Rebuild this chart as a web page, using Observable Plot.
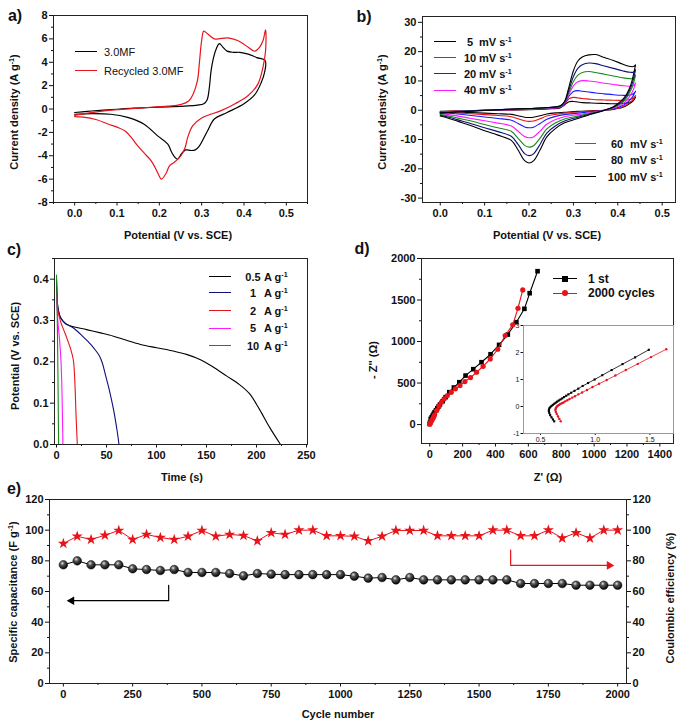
<!DOCTYPE html>
<html><head><meta charset="utf-8">
<script src="https://cdn.jsdelivr.net/npm/d3@7"></script>
<script src="https://cdn.jsdelivr.net/npm/@observablehq/plot@0.6"></script>
<style>
body{margin:0;background:#fff;}
#root{position:relative;width:685px;height:724px;overflow:hidden;background:#fff;}
.t{position:absolute;white-space:nowrap;line-height:1;color:#111;font-family:'Liberation Sans',Arial,Helvetica,sans-serif;}
.t sup{font-size:65%;vertical-align:0.55em;line-height:0;}
.sw{position:absolute;height:0;}
</style></head><body><div id="root"></div>
<script>
// ---------- Panel a: CV of 3.0MF and recycled 3.0MF (potential V, current A/g) ----------
const aXTicks = [0, 0.1, 0.2, 0.3, 0.4, 0.5];
const aXMinor = [-0.05, 0.05, 0.15, 0.25, 0.35, 0.45, 0.55];
const aYTicks = [-8, -6, -4, -2, 0, 2, 4, 6, 8];
const aYMinor = [-7, -5, -3, -1, 1, 3, 5, 7];
const cv30MF = [[0,-0.3],[0.03,-0.2],[0.06,-0.12],[0.1,-0.02],[0.14,0.07],[0.18,0.13],[0.22,0.19],[0.26,0.25],[0.29,0.33],[0.305,0.45],[0.313,0.8],[0.318,1.8],[0.322,3.2],[0.328,4.4],[0.335,5.2],[0.342,5.6],[0.35,5.3],[0.36,4.95],[0.375,4.85],[0.39,4.85],[0.41,4.7],[0.43,4.4],[0.45,4.15],[0.449,3.2],[0.44,2.2],[0.425,1.2],[0.4,0.45],[0.36,-0.3],[0.33,-0.86],[0.314,-1.86],[0.302,-2.7],[0.294,-3.2],[0.285,-3.5],[0.275,-3.55],[0.262,-3.5],[0.252,-3.85],[0.243,-4.3],[0.236,-4.1],[0.229,-3.7],[0.22,-3.0],[0.196,-2.3],[0.164,-1.3],[0.125,-0.72],[0.085,-0.45],[0.04,-0.4],[0,-0.45]];
const cvRecycled = [[0,-0.55],[0.03,-0.35],[0.06,-0.2],[0.1,-0.05],[0.14,0.05],[0.18,0.15],[0.22,0.25],[0.25,0.38],[0.27,0.71],[0.28,1.29],[0.29,2.43],[0.295,4.1],[0.3,5.86],[0.305,6.66],[0.314,6.43],[0.33,6.0],[0.362,6.09],[0.385,5.86],[0.41,5.29],[0.425,4.94],[0.437,5.29],[0.445,5.86],[0.451,6.77],[0.451,5.0],[0.445,3.6],[0.433,2.15],[0.41,1.15],[0.378,0.43],[0.346,-0.14],[0.3,-0.77],[0.279,-1.43],[0.267,-2.43],[0.261,-3.3],[0.251,-4.0],[0.235,-4.57],[0.224,-4.86],[0.216,-5.5],[0.205,-6.0],[0.198,-5.6],[0.19,-5.0],[0.18,-4.4],[0.165,-3.8],[0.15,-3.2],[0.135,-2.5],[0.12,-1.9],[0.1,-1.55],[0.08,-1.3],[0.05,-0.9],[0.02,-0.7],[0,-0.65]];

// ---------- Panel b: CV at different scan rates ----------
const bXTicks = [0, 0.1, 0.2, 0.3, 0.4, 0.5];
const bXMinor = [0.05, 0.15, 0.25, 0.35, 0.45];
const bYTicks = [-30, -20, -10, 0, 10, 20, 30];
const bYMinor = [-25, -15, -5, 5, 15, 25];
const bRates = ["5", "10", "20", "40", "60", "80", "100"];
const bColors = ["#000000", "#e8141a", "#1a1aff", "#ff1aff", "#1a8a1a", "#10107a", "#000000"];
const bUpperV = [0,0.05,0.1,0.15,0.2,0.25,0.27,0.28,0.29,0.3,0.31,0.32,0.335,0.35,0.37,0.39,0.41,0.425,0.435,0.44];
const bLowerV = [0.44,0.435,0.43,0.42,0.41,0.39,0.37,0.34,0.31,0.28,0.26,0.24,0.225,0.21,0.2,0.19,0.175,0.16,0.13,0.1,0.07,0.04,0.02,0];
const bUp5   = [-0.4,-0.2,0,0.1,0.2,0.5,0.8,1.8,2.9,3.0,2.8,2.6,2.5,2.4,2.3,2.2,2.3,2.6,3.3,4.5];
const bUp10  = [-0.5,-0.2,0,0.1,0.3,0.6,0.9,2.0,3.9,4.4,4.2,4.0,3.8,3.6,3.5,3.4,3.4,3.6,4.2,5.0];
const bUp20  = [-0.6,-0.3,0,0.2,0.4,0.7,1.0,2.2,4.8,6.4,6.7,6.5,6.2,5.9,5.6,5.3,5.1,5.1,5.6,6.5];
const bUp40  = [-0.7,-0.3,0,0.2,0.4,0.8,1.2,2.4,5.5,8.3,9.7,10.1,10.0,9.7,9.2,8.8,8.4,8.2,8.4,9.3];
const bUp60  = [-0.8,-0.3,0,0.3,0.5,0.9,1.3,2.6,6.2,9.8,12.0,12.9,13.2,12.9,12.3,11.7,11.1,10.8,10.9,12.0];
const bUp80  = [-0.9,-0.4,0,0.3,0.6,1.0,1.4,2.8,7.0,11.5,14.3,15.5,16.1,15.9,15.1,14.3,13.5,13.0,13.0,13.8];
const bUp100 = [-1.0,-0.5,-0.1,0.3,0.6,1.0,1.5,3.0,8.0,13.5,16.8,18.2,18.9,19.0,18.0,17.0,15.8,15.0,14.9,15.5];
const bLow5   = [4.5,3.3,2.6,1.6,0.9,0.3,0,-0.2,-0.4,-0.7,-0.9,-1.3,-1.9,-2.4,-2.5,-2.4,-1.9,-1.4,-1.2,-1.0,-0.8,-0.6,-0.5,-0.4];
const bLow10  = [5.0,3.8,3.0,1.9,1.1,0.4,0,-0.3,-0.6,-1.0,-1.4,-2.0,-2.9,-3.7,-3.8,-3.6,-2.9,-2.2,-1.8,-1.5,-1.2,-0.9,-0.7,-0.6];
const bLow20  = [6.5,5.0,4.0,2.5,1.5,0.5,0,-0.5,-1.0,-1.5,-2.1,-3.1,-4.5,-5.8,-6.0,-5.7,-4.5,-3.4,-2.8,-2.3,-1.8,-1.3,-1.0,-0.9];
const bLow40  = [9.3,7.0,5.5,3.4,2.0,0.7,0,-0.8,-1.5,-2.2,-3.2,-4.8,-7.1,-9.1,-9.4,-9.0,-7.1,-5.4,-4.4,-3.6,-2.8,-2.0,-1.5,-1.2];
const bLow60  = [12.0,9.0,7.0,4.3,2.6,0.9,0,-1.0,-2.0,-3.0,-4.3,-6.4,-9.5,-12.1,-12.6,-12.0,-9.5,-7.2,-6.0,-4.9,-3.7,-2.7,-2.0,-1.5];
const bLow80  = [13.8,10.5,8.0,5.0,3.0,1.0,0,-1.2,-2.4,-3.7,-5.3,-7.8,-11.6,-14.9,-15.5,-14.8,-11.6,-8.9,-7.3,-6.0,-4.6,-3.3,-2.4,-1.7];
const bLow100 = [15.5,12.0,9.0,5.5,3.5,1.2,0,-1.4,-2.8,-4.3,-6.2,-9.1,-13.5,-17.3,-18.0,-17.2,-13.5,-10.3,-8.5,-7.0,-5.3,-3.8,-2.8,-2.0];
const bUppers = [bUp5, bUp10, bUp20, bUp40, bUp60, bUp80, bUp100];
const bLowers = [bLow5, bLow10, bLow20, bLow40, bLow60, bLow80, bLow100];

// ---------- Panel c: discharge curves (time s, potential V) ----------
const cXTicks = [0, 50, 100, 150, 200, 250];
const cXMinor = [25, 75, 125, 175, 225];
const cYTicks = [0, 0.1, 0.2, 0.3, 0.4];
const cYMinor = [0.05, 0.15, 0.25, 0.35, 0.45];
const cLabels = ["0.5", "1", "2", "5", "10"];
const cColors = ["#000000", "#10107a", "#e8141a", "#ff1aff", "#1a8a1a"];
const gcd05 = [[0,0.4],[0.5,0.36],[1.3,0.333],[4,0.307],[9,0.292],[17,0.285],[30,0.278],[44,0.27],[57,0.262],[70,0.252],[84,0.242],[100,0.234],[117,0.226],[130,0.218],[144,0.205],[157,0.187],[170,0.166],[183,0.145],[193,0.123],[203,0.085],[213,0.042],[224,0]];
const gcd1 = [[0,0.4],[0.5,0.36],[1.3,0.333],[4,0.307],[9,0.293],[17,0.282],[27,0.26],[34,0.243],[39,0.228],[43,0.214],[46,0.196],[49,0.168],[53,0.13],[57,0.085],[60.5,0.035],[62.5,0]];
const gcd2 = [[0,0.37],[1.3,0.325],[4,0.298],[9,0.266],[14,0.232],[16.8,0.205],[18.2,0.16],[19.4,0.08],[20.8,0]];
const gcd5 = [[0,0.36],[1.3,0.3],[3.2,0.25],[4.6,0.196],[5.6,0.115],[6.4,0]];
const gcd10 = [[0,0.41],[0.7,0.32],[1.3,0.2],[1.8,0.08],[2.1,0]];
const gcdSeries = [gcd05, gcd1, gcd2, gcd5, gcd10];

// ---------- Panel d: Nyquist plots (Z' ohm, -Z'' ohm) ----------
const dXTicks = [0, 200, 400, 600, 800, 1000, 1200, 1400];
const dXMinor = [100, 300, 500, 700, 900, 1100, 1300];
const dYTicks = [0, 500, 1000, 1500, 2000];
const dYMinor = [250, 750, 1250, 1750];
const eis1st = [[0,8],[2,28],[6,68],[12,88],[18,108],[24,128],[30,149],[38,173],[46,197],[54,219],[62,241],[79,281],[97,330],[119,390],[147,446],[180,510],[218,590],[265,667],[315,751],[370,847],[422,960],[475,1084],[527,1233],[576,1394],[608,1582],[656,1847]];
const eis2000 = [[0,5],[3,16],[6,28],[12,48],[18,69],[24,92],[30,117],[42,169],[57,221],[71,269],[87,309],[107,349],[131,390],[156,430],[184,470],[214,518],[248,566],[285,630],[325,702],[368,791],[414,907],[459,1072],[505,1201],[537,1401],[566,1622]];
// inset (high-frequency region)
const insXTicks = [0.5, 1.0, 1.5];
const insYTicks = [-1, 0, 1, 2, 3];
const ins1st = [[1.49,2.1],[1.365,1.82],[1.25,1.57],[1.15,1.35],[1.065,1.16],[0.995,1.0],[0.935,0.87],[0.885,0.76],[0.845,0.66],[0.81,0.58],[0.78,0.51],[0.755,0.45],[0.735,0.4],[0.715,0.35],[0.698,0.3],[0.682,0.26],[0.666,0.22],[0.652,0.18],[0.638,0.14],[0.625,0.1],[0.612,0.06],[0.6,0.02],[0.59,-0.02],[0.582,-0.06],[0.577,-0.11],[0.576,-0.17],[0.58,-0.24],[0.588,-0.32],[0.6,-0.4],[0.613,-0.48],[0.625,-0.55]];
const ins2000 = [[1.65,2.12],[1.51,1.83],[1.39,1.58],[1.28,1.35],[1.185,1.15],[1.105,0.98],[1.035,0.84],[0.975,0.72],[0.925,0.61],[0.88,0.52],[0.845,0.45],[0.815,0.38],[0.79,0.33],[0.765,0.28],[0.745,0.23],[0.725,0.19],[0.71,0.15],[0.695,0.12],[0.68,0.09],[0.668,0.06],[0.658,0.03],[0.65,0.0],[0.643,-0.04],[0.638,-0.08],[0.636,-0.13],[0.64,-0.2],[0.648,-0.28],[0.66,-0.37],[0.672,-0.46],[0.685,-0.55]];

// ---------- Panel e: cycling stability ----------
const eXTicks = [0, 250, 500, 750, 1000, 1250, 1500, 1750, 2000];
const eXMinor = [125, 375, 625, 875, 1125, 1375, 1625, 1875];
const eYTicks = [0, 20, 40, 60, 80, 100, 120];
const eYMinor = [10, 30, 50, 70, 90, 110];
const eCycles = [0,50,100,150,200,250,300,350,400,450,500,550,600,650,700,750,800,850,900,950,1000,1050,1100,1150,1200,1250,1300,1350,1400,1450,1500,1550,1600,1650,1700,1750,1800,1850,1900,1950,2000];
const eCapacitance = [77.4,80,77.4,77.4,77.4,74.8,74.3,73.7,74.3,72.4,72.4,72.4,71.7,70.2,71.7,71.3,71,71,71,71,71,70,68.7,69.1,67.6,69.1,67.6,67.6,67.6,67.6,67.6,67.6,67.6,65.2,65.2,65.2,65.2,64.1,64.1,64.1,64.1];
const eEfficiency = [91.3,96,93.9,96.7,99.8,93.9,97.2,95.2,93.9,96,99.8,96,97.2,96.5,93,98.3,97.2,100,100,96.3,96.3,96,93,96,99.8,99.8,99.8,96.3,96.3,96.3,96.3,100,100,96.3,96.3,100,94.8,98.3,94.8,100,100];
const eArrowCap = [[380,64],[380,54],[30,54]];
const eArrowEff = [[1614,87],[1614,77],[1970,77]];

// ================= rendering =================
const FONT = "'Liberation Sans', Arial, Helvetica, sans-serif";
const root = document.getElementById("root");
const fmt = d => String(d);
const fmt1 = d3.format(".1f");
const XY = {x: d => d[0], y: d => d[1]};

function panel(o) {
  const ml = o.ml ?? 45, mr = o.mr ?? 12, mt = o.mt ?? 6, mb = o.mb ?? 24;
  const [x0, y0, x1, y1] = o.frame;
  const small = !!o.small;
  const tk = small ? 2 : 3.5, tkm = small ? 1.2 : 2;
  const marks = [];
  if (o.bg) marks.push(Plot.frame({fill: o.bg, stroke: "none"}));
  marks.push(...o.marks);
  marks.push(Plot.axisX(o.xTicks, {tickSize: tk, tickPadding: small ? 1.5 : 3, label: null, tickFormat: o.xFmt || fmt}));
  if (o.xMinor) marks.push(Plot.axisX(o.xMinor, {tickSize: tkm, fill: "none", label: null}));
  marks.push(Plot.axisY(o.yTicks, {tickSize: tk + 0.5, tickPadding: small ? 1.5 : 2, label: null, tickFormat: o.yFmt || fmt}));
  if (o.yMinor) marks.push(Plot.axisY(o.yMinor, {tickSize: tkm, fill: "none", label: null}));
  if (o.yRight) {
    marks.push(Plot.axisY(o.yTicks, {anchor: "right", tickSize: tk + 0.5, tickPadding: 2, label: null, tickFormat: o.yFmt || fmt}));
    if (o.yMinor) marks.push(Plot.axisY(o.yMinor, {anchor: "right", tickSize: tkm, fill: "none", label: null}));
  }
  marks.push(Plot.frame({stroke: o.frameColor || "#222", strokeWidth: 1}));
  const svg = Plot.plot({
    width: x1 - x0 + ml + mr, height: y1 - y0 + mt + mb,
    marginLeft: ml, marginRight: mr, marginTop: mt, marginBottom: mb,
    x: {domain: o.xDomain}, y: {domain: o.yDomain},
    style: {fontFamily: FONT, fontSize: small ? "7px" : "11px", fontWeight: small ? "normal" : "bold",
            background: "transparent", color: "#111", overflow: "visible"},
    marks
  });
  Object.assign(svg.style, {position: "absolute", left: (x0 - ml) + "px", top: (y0 - mt) + "px", maxWidth: "none"});
  root.append(svg);
}

function text(html, x, y, o = {}) {
  const d = document.createElement("div");
  d.className = "t";
  d.innerHTML = html;
  d.style.fontSize = (o.size ?? 11) + "px";
  d.style.fontWeight = o.weight ?? "bold";
  d.style.left = x + "px";
  d.style.top = y + "px";
  const tx = o.anchor === "start" ? "0" : "-50%";
  d.style.transform = `translate(${tx},-50%)` + (o.rot ? ` rotate(${o.rot}deg)` : "");
  root.append(d);
}
function swatch(xa, xb, y, color, marker) {
  const s = document.createElement("div");
  s.className = "sw";
  Object.assign(s.style, {left: xa + "px", top: (y - 0.6) + "px", width: (xb - xa) + "px", borderTop: `1.3px solid ${color}`});
  root.append(s);
  if (marker) {
    const m = document.createElement("div");
    const r = 3;
    Object.assign(m.style, {position: "absolute", left: ((xa + xb) / 2 - r) + "px", top: (y - r) + "px", width: 2 * r + "px", height: 2 * r + "px",
      background: color, borderRadius: marker === "circle" ? "50%" : "0"});
    root.append(m);
  }
}

// Panel a
panel({
  frame: [53, 15, 307, 202], xDomain: [-0.05, 0.55], yDomain: [-8, 8],
  xTicks: aXTicks, xMinor: aXMinor, yTicks: aYTicks, yMinor: aYMinor, xFmt: fmt1,
  marks: [
    Plot.line(cv30MF, {...XY, stroke: "#000", strokeWidth: 1.2, curve: "catmull-rom"}),
    Plot.line(cvRecycled, {...XY, stroke: "#e8141a", strokeWidth: 1.2, curve: "catmull-rom"})
  ]
});
text("a)", 15, 16, {size: 16});
text("Current density (A g<sup>-1</sup>)", 14, 112, {rot: -90});
text("Potential (V vs. SCE)", 178, 235);
swatch(75, 97, 52, "#000"); text("3.0MF", 104, 52, {anchor: "start", weight: "normal"});
swatch(75, 97, 71, "#e8141a"); text("Recycled 3.0MF", 104, 71, {anchor: "start", weight: "normal"});

// Panel b
panel({
  frame: [422, 16, 675, 202], xDomain: [-0.04, 0.53], yDomain: [-31.5, 32],
  xTicks: bXTicks, xMinor: bXMinor, yTicks: bYTicks, yMinor: bYMinor, xFmt: fmt1, mr: 8,
  marks: bRates.map((r, i) => Plot.line(
    bUpperV.map((v, j) => [v, bUppers[i][j]]).concat(bLowerV.map((v, j) => [v, bLowers[i][j]])),
    {...XY, stroke: bColors[i], strokeWidth: 1.1, curve: "catmull-rom"}))
});
text("b)", 364, 17, {size: 16});
text("Current density (A g<sup>-1</sup>)", 382, 112, {rot: -90});
text("Potential (V vs. SCE)", 547, 235);
const bLegY = [41.7, 58, 74, 90.3, 144, 160, 176.7];
bRates.forEach((r, i) => {
  const upper = i < 4;
  const xa = upper ? 434 : 575, xb = upper ? 456 : 596;
  swatch(xa, xb, bLegY[i], bColors[i]);
  text(r, upper ? 470 : 617, bLegY[i]);
  text("mV s<sup>-1</sup>", upper ? 479 : 630, bLegY[i], {anchor: "start"});
});

// Panel c
panel({
  frame: [54, 258, 307, 444], xDomain: [-2, 251], yDomain: [0, 0.45],
  xTicks: cXTicks, xMinor: cXMinor, yTicks: cYTicks, yMinor: cYMinor, yFmt: fmt1,
  marks: gcdSeries.map((s, i) => Plot.line(s, {...XY, stroke: cColors[i], strokeWidth: 1.1, curve: "catmull-rom"}))
});
text("c)", 14, 250, {size: 16});
text("Potential (V vs. SCE)", 15, 356, {rot: -90});
text("Time (s)", 182, 477);
const cLegY = [276.7, 292.7, 310.7, 328.3, 346];
cLabels.forEach((l, i) => {
  swatch(209, 231, cLegY[i], cColors[i]);
  text(l, 253, cLegY[i]);
  text("A g<sup>-1</sup>", 264, cLegY[i], {anchor: "start"});
});

// Panel d
panel({
  frame: [421, 258, 673, 443], xDomain: [-50, 1483], yDomain: [-228, 2000],
  xTicks: dXTicks, xMinor: dXMinor, yTicks: dYTicks, yMinor: dYMinor, mr: 8,
  marks: [
    Plot.line(eis1st, {...XY, stroke: "#000", strokeWidth: 1.1}),
    Plot.dot(eis1st, {...XY, symbol: "square", fill: "#000", r: 2.6}),
    Plot.line(eis2000, {...XY, stroke: "#e8141a", strokeWidth: 1.1}),
    Plot.dot(eis2000, {...XY, symbol: "circle", fill: "#e8141a", r: 2.6})
  ]
});
panel({
  frame: [523, 325, 673, 433], xDomain: [0.344, 1.716], yDomain: [-1, 3],
  xTicks: insXTicks, yTicks: insYTicks, xFmt: fmt1, small: true, bg: "white", frameColor: "#999",
  ml: 14, mr: 4, mt: 4, mb: 12,
  marks: [
    Plot.line(ins1st, {...XY, stroke: "#000", strokeWidth: 0.8}),
    Plot.dot(ins1st, {...XY, symbol: "square", fill: "#000", r: 1.2}),
    Plot.line(ins2000, {...XY, stroke: "#e8141a", strokeWidth: 0.8}),
    Plot.dot(ins2000, {...XY, symbol: "circle", fill: "#e8141a", r: 1.2})
  ]
});
text("d)", 362, 249, {size: 16});
text("- Z'' (Ω)", 373, 360, {rot: -90});
text("Z' (Ω)", 548, 477);
swatch(553, 577, 279, "#000", "square"); text("1 st", 588, 279, {anchor: "start", size: 12});
swatch(553, 577, 293.3, "#e8141a", "circle"); text("2000 cycles", 588, 293.3, {anchor: "start", size: 12});

// Panel e
panel({
  frame: [49, 499, 626, 683], xDomain: [-50, 2032], yDomain: [0, 120],
  xTicks: eXTicks, xMinor: eXMinor, yTicks: eYTicks, yMinor: eYMinor, yRight: true, ml: 45, mr: 40,
  marks: [
    () => {
      const defs = d3.create("svg:defs");
      const g = defs.append("radialGradient").attr("id", "sphere").attr("cx", "38%").attr("cy", "32%").attr("r", "70%");
      g.append("stop").attr("offset", "0%").attr("stop-color", "#e6e6e6");
      g.append("stop").attr("offset", "35%").attr("stop-color", "#555");
      g.append("stop").attr("offset", "100%").attr("stop-color", "#000");
      return defs.node();
    },
    Plot.line(eCycles, {x: d => d, y: (d, i) => eEfficiency[i], stroke: "#e8141a", strokeWidth: 1}),
    Plot.dot(eCycles, {x: d => d, y: (d, i) => eEfficiency[i], symbol: "star", fill: "#e8141a", r: 3.5}),
    Plot.line(eCycles, {x: d => d, y: (d, i) => eCapacitance[i], stroke: "#000", strokeWidth: 1}),
    Plot.dot(eCycles, {x: d => d, y: (d, i) => eCapacitance[i], fill: "url(#sphere)", stroke: "#000", strokeWidth: 0.5, r: 4.3}),
    Plot.line(eArrowCap, {...XY, stroke: "#000", strokeWidth: 1.2}),
    Plot.dot([eArrowCap[2]], {...XY, symbol: "triangle", fill: "#000", r: 3.2, rotate: -90}),
    Plot.line(eArrowEff, {...XY, stroke: "#e8141a", strokeWidth: 1.2}),
    Plot.dot([eArrowEff[2]], {...XY, symbol: "triangle", fill: "#e8141a", r: 3.2, rotate: 90})
  ]
});
text("e)", 14, 489, {size: 16});
text("Specific capacitance (F g<sup>-1</sup>)", 13, 592, {rot: -90});
text("Coulombic efficiency (%)", 670, 598, {rot: -90});
text("Cycle number", 338, 714);
</script></body></html>
